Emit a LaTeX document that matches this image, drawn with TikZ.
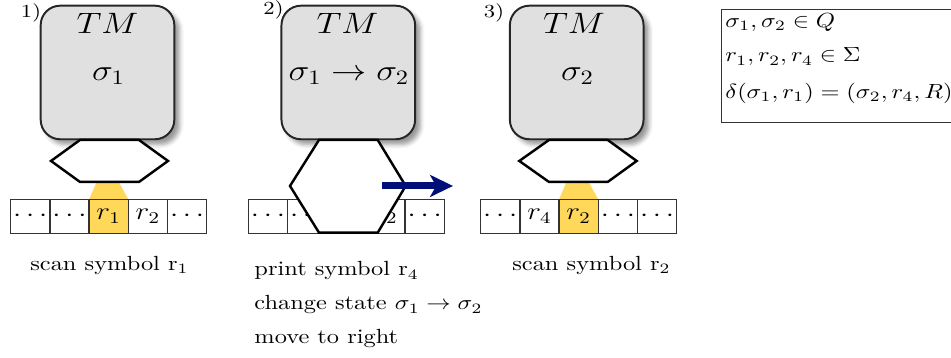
\documentclass[tikz,border=0pt]{standalone}
\usetikzlibrary{arrows.meta,shadows.blur}
\definecolor{tmgray}{RGB}{224,224,224}
\definecolor{scanyellow}{RGB}{255,216,90}
\definecolor{movenavy}{RGB}{0,16,120}
\tikzset{
    tmbox/.style={draw=black!85, line width=0.8pt, fill=tmgray, rounded corners=8pt,
        minimum width=54.8pt, minimum height=65.2pt, inner sep=0pt, blur shadow},
    head/.style={draw=black, line width=1pt, fill=white},
    beam/.style={fill=scanyellow},
    cell/.style={draw=black!80, line width=0.5pt, minimum width=16.07pt,
        minimum height=16.6pt, inner sep=0pt, font=\large},
    scanned/.style={cell, fill=scanyellow},
    panel/.style={font=\small, inner sep=0pt},
    caption/.style={anchor=base, inner sep=0pt},
    rightmove/.style={draw=movenavy, line width=2.9pt,
        -{Stealth[length=9.4pt, width=9pt, inset=2.5pt]}}
}
\begin{document}
\begin{tikzpicture}[x=0.41pt, y=-0.488pt, yscale=0.84,
    every node/.append style={transform shape}]
    \useasboundingbox (0, 0) rectangle (951, 358);
    % 1) scan
    \node[panel] (p1) at(31, 12.5) {1)};
    \node[tmbox] (m1) at(107.5, 72.5) {};
    \node[font=\Large] (tm1) at(107.5, 23) {$TM$};
    \node[font=\Large] (st1) at(108.5, 76) {$\sigma_1$};
    \fill[beam] (96.7, 182) -- (118.7, 182) -- (128.3, 199.3) -- (89.1, 199.3) -- cycle;
    \draw[head] (51, 161) -- (80, 140) -- (139, 140) -- (168, 161) -- (139, 182)
        -- (80, 182) -- cycle;
    \node[cell] (a1) at(30.3, 216.3) {$\cdots$};
    \node[cell] (a2) at(69.5, 216.3) {$\cdots$};
    \node[scanned] (a3) at(108.7, 216.3) {$r_1$};
    \node[cell] (a4) at(147.9, 216.3) {$r_2$};
    \node[cell] (a5) at(187.1, 216.3) {$\cdots$};
    \node[caption] (c1) at(109.5, 270.5) {scan symbol r$_1$};
    % 2) print and move
    \node[panel] (p2) at(273.5, 9.5) {2)};
    \node[tmbox] (m2) at(348.3, 72.5) {};
    \node[font=\Large] (tm2) at(347.5, 23) {$TM$};
    \node[font=\Large] (st2) at(349, 76) {$\sigma_1 \rightarrow \sigma_2$};
    \node[cell] (b1) at(267.9, 216.3) {$\cdots$};
    \node[cell] (b2) at(307.1, 216.3) {$\cdots$};
    \node[cell] (b3) at(346.3, 216.3) {};
    \node[cell] (b4) at(385.5, 216.3) {$r_2$};
    \node[cell] (b5) at(424.7, 216.3) {$\cdots$};
    \draw[head] (290, 186) -- (319, 140) -- (377.7, 140) -- (405.7, 186)
        -- (377.7, 232.7) -- (319, 232.7) -- cycle;
    \coordinate (mv1) at(382, 186);
    \coordinate (mv2) at(453, 186);
    \draw[rightmove] (mv1) -- (mv2);
    \node[anchor=base west, inner sep=0pt] (c2a) at(254, 276) {print symbol r$_4$};
    \node[anchor=base west, inner sep=0pt] (c2b) at(254, 310)
        {change state $\sigma_1 \rightarrow \sigma_2$};
    \node[anchor=base west, inner sep=0pt] (c2c) at(254, 344) {move to right};
    % 3) scan again
    \node[panel] (p3) at(494, 12.5) {3)};
    \node[tmbox] (m3) at(576.7, 72.5) {};
    \node[font=\Large] (tm3) at(574, 23) {$TM$};
    \node[font=\Large] (st3) at(577.5, 76) {$\sigma_2$};
    \fill[beam] (566.5, 182) -- (588.5, 182) -- (598.3, 199.3) -- (559.1, 199.3) -- cycle;
    \draw[head] (519.3, 161) -- (549, 140) -- (607.7, 140) -- (636.7, 161)
        -- (607.7, 182) -- (549, 182) -- cycle;
    \node[cell] (d1) at(500.3, 216.3) {$\cdots$};
    \node[cell] (d2) at(539.5, 216.3) {$r_4$};
    \node[scanned] (d3) at(578.7, 216.3) {$r_2$};
    \node[cell] (d4) at(617.9, 216.3) {$\cdots$};
    \node[cell] (d5) at(657.1, 216.3) {$\cdots$};
    \node[caption] (c3) at(591.5, 270.5) {scan symbol r$_2$};
    % definitions
    \node[draw=black!80, line width=0.5pt, anchor=north west, inner sep=0pt,
        minimum width=96pt, minimum height=55.2pt] (defs) at(720.7, 9) {};
    \node[anchor=west, inner sep=0pt] (q) at(725, 22.5) {$\sigma_1, \sigma_2 \in Q$};
    \node[anchor=west, inner sep=0pt] (sig) at(725, 57) {$r_1, r_2, r_4 \in \Sigma$};
    \node[anchor=west, inner sep=0pt] (del) at(725, 93)
        {$\delta(\sigma_1, r_1) = (\sigma_2, r_4, R)$};
\end{tikzpicture}
\end{document}
